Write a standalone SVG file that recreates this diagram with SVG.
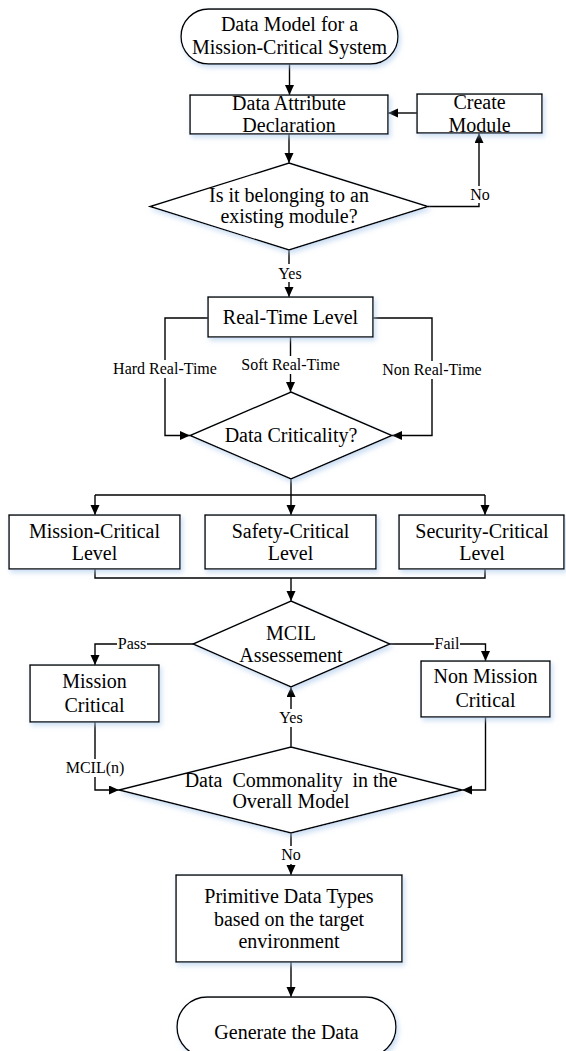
<svg xmlns="http://www.w3.org/2000/svg" width="566" height="1051" viewBox="0 0 566 1051">
<style>
.s{fill:#fff;stroke:#000;stroke-width:1.4;filter:url(#sh)}
.t{font-family:"Liberation Serif","Times New Roman",serif;font-size:20px;text-anchor:middle;fill:#000}
.l{font-family:"Liberation Serif","Times New Roman",serif;font-size:16px;text-anchor:middle;fill:#000}
.c{fill:none;stroke:#000;stroke-width:1.4}
.a{marker-end:url(#ar)}
.bg{fill:#fff}
</style>
<defs>
<filter id="sh" x="-10%" y="-10%" width="125%" height="135%">
<feDropShadow dx="2" dy="3" stdDeviation="2.5" flood-color="#a9c8ea" flood-opacity="0.6"/>
</filter>
<marker id="ar" markerUnits="userSpaceOnUse" markerWidth="11" markerHeight="10" refX="10" refY="4.5" orient="auto">
<path d="M0,0 L10,4.5 L0,9 z" fill="#000"/>
</marker>
</defs>

<g id="connectors">
<path class="c a" d="M289.5,64 V95"/>
<path class="c a" d="M417,113 H388"/>
<path class="c a" d="M289,134 V163"/>
<path class="c a" d="M428,206.5 H479 V133"/>
<path class="c a" d="M289,250 V297"/>
<path class="c a" d="M208,318 H165 V435.5 H190"/>
<path class="c a" d="M373,318 H432 V435.5 H392"/>
<path class="c a" d="M290.5,337 V392"/>
<path class="c a" d="M291,479 V515"/>
<path class="c" d="M95,495 H485"/>
<path class="c a" d="M95,495 V515"/>
<path class="c a" d="M485,495 V515"/>
<path class="c" d="M95,569 V578 H485 V569"/>
<path class="c a" d="M291,578 V601"/>
<path class="c a" d="M193,644 H95 V665"/>
<path class="c a" d="M390,644 H485.5 V661"/>
<path class="c a" d="M291,747 V687"/>
<path class="c a" d="M95,722 V790 H119"/>
<path class="c a" d="M485.5,717 V790 H462"/>
<path class="c a" d="M291,833 V875"/>
<path class="c a" d="M291,962 V997"/>
</g>

<g id="labels">
<rect class="bg" x="469" y="186" width="22" height="17"/><text class="l" x="480" y="200">No</text>
<rect class="bg" x="276" y="264" width="28" height="18"/><text class="l" x="290" y="279">Yes</text>
<rect class="bg" x="112" y="360" width="106" height="18"/><text class="l" x="165" y="374">Hard Real-Time</text>
<rect class="bg" x="240" y="356" width="101" height="18"/><text class="l" x="290.5" y="370">Soft Real-Time</text>
<rect class="bg" x="381" y="361" width="102" height="18"/><text class="l" x="432" y="375">Non Real-Time</text>
<rect class="bg" x="117" y="636" width="30" height="16"/><text class="l" x="132" y="649">Pass</text>
<rect class="bg" x="434" y="636" width="26" height="16"/><text class="l" x="447" y="649">Fail</text>
<rect class="bg" x="277" y="709" width="28" height="18"/><text class="l" x="291" y="723">Yes</text>
<rect class="bg" x="65" y="759" width="60" height="18"/><text class="l" x="95" y="773">MCIL(n)</text>
<rect class="bg" x="280" y="846" width="22" height="18"/><text class="l" x="291" y="860">No</text>
</g>

<g id="start">
<rect class="s" x="181" y="9" width="217" height="55" rx="27.5"/>
<text class="t" x="289.5" y="31">Data Model for a</text>
<text class="t" x="289.5" y="54">Mission-Critical System</text>
</g>
<g id="data-attribute">
<rect class="s" x="190" y="95" width="198" height="39"/>
<text class="t" x="289" y="110">Data Attribute</text>
<text class="t" x="289" y="131.5">Declaration</text>
</g>
<g id="create-module">
<rect class="s" x="417" y="94" width="125" height="39"/>
<text class="t" x="479.5" y="109">Create</text>
<text class="t" x="479.5" y="131.5">Module</text>
</g>
<g id="existing-module">
<polygon class="s" points="289,163 428,206.5 289,250 150,206.5"/>
<text class="t" x="289" y="201.5">Is it belonging to an</text>
<text class="t" x="289" y="223">existing module?</text>
</g>
<g id="real-time-level">
<rect class="s" x="208" y="297" width="165" height="40"/>
<text class="t" x="290.5" y="324">Real-Time Level</text>
</g>
<g id="data-criticality">
<polygon class="s" points="291,392 392,435.5 291,479 190,435.5"/>
<text class="t" x="291" y="441.5">Data Criticality?</text>
</g>
<g id="mission-critical-level">
<rect class="s" x="9" y="515" width="171" height="54"/>
<text class="t" x="94.5" y="538">Mission-Critical</text>
<text class="t" x="94.5" y="560">Level</text>
</g>
<g id="safety-critical-level">
<rect class="s" x="205" y="515" width="171" height="54"/>
<text class="t" x="290.5" y="538">Safety-Critical</text>
<text class="t" x="290.5" y="560">Level</text>
</g>
<g id="security-critical-level">
<rect class="s" x="399" y="515" width="165" height="54"/>
<text class="t" x="482" y="538">Security-Critical</text>
<text class="t" x="482" y="560">Level</text>
</g>
<g id="mcil-assessment">
<polygon class="s" points="291,601 390,644 291,687 193,644"/>
<text class="t" x="291" y="640">MCIL</text>
<text class="t" x="291" y="662">Assessement</text>
</g>
<g id="mission-critical">
<rect class="s" x="30" y="665" width="129" height="57"/>
<text class="t" x="94.5" y="688">Mission</text>
<text class="t" x="94.5" y="711.5">Critical</text>
</g>
<g id="non-mission-critical">
<rect class="s" x="421" y="661" width="129" height="56"/>
<text class="t" x="485.5" y="683">Non Mission</text>
<text class="t" x="485.5" y="706.5">Critical</text>
</g>
<g id="data-commonality">
<polygon class="s" points="291,747 462,790 291,833 119,790"/>
<text class="t" x="291" y="786.5"><tspan word-spacing="5">Data Commonality in</tspan> the</text>
<text class="t" x="291" y="808">Overall Model</text>
</g>
<g id="primitive-types">
<rect class="s" x="176" y="875" width="226" height="87"/>
<text class="t" x="289" y="903">Primitive Data Types</text>
<text class="t" x="289" y="926">based on the target</text>
<text class="t" x="289" y="948">environment</text>
</g>
<g id="generate">
<rect class="s" x="177" y="997" width="219" height="60" rx="30"/>
<text class="t" x="286.5" y="1039">Generate the Data</text>
</g>
</svg>
